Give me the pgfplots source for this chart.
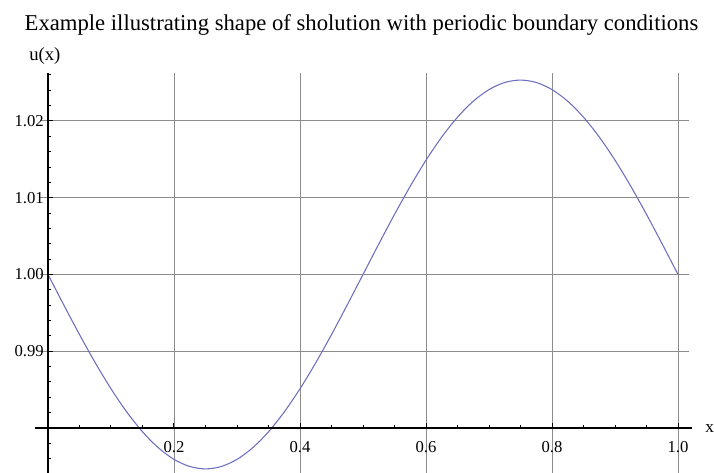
\documentclass[border=0pt]{standalone}
\usepackage{pgfplots}
\pgfplotsset{compat=1.18}
\usepackage{fontspec}
\setmainfont{Liberation Serif}
\definecolor{gridgray}{RGB}{140,140,140}
\definecolor{curveblue}{RGB}{110,110,190}
\pgfplotstableread{
x u
0.000 1.000000
0.025 0.996038
0.050 0.992172
0.075 0.988500
0.100 0.985111
0.125 0.982089
0.150 0.979508
0.175 0.977431
0.200 0.975910
0.225 0.974982
0.250 0.974670
0.275 0.974982
0.300 0.975910
0.325 0.977431
0.350 0.979508
0.375 0.982089
0.400 0.985111
0.425 0.988500
0.450 0.992172
0.475 0.996038
0.500 1.000000
0.525 1.003962
0.550 1.007828
0.575 1.011500
0.600 1.014889
0.625 1.017911
0.650 1.020492
0.675 1.022569
0.700 1.024090
0.725 1.025018
0.750 1.025330
0.775 1.025018
0.800 1.024090
0.825 1.022569
0.850 1.020492
0.875 1.017911
0.900 1.014889
0.925 1.011500
0.950 1.007828
0.975 1.003962
1.000 1.000000
}\solution
\begin{document}
\begin{tikzpicture}
\path[use as bounding box] (0,0) rectangle (535.5pt,354.75pt);
% grid + curve
\begin{axis}[
  at={(30pt,0pt)}, anchor=south west,
  scale only axis, width=486.75pt, height=300pt,
  xmin=-0.0127, xmax=1.01746, ymin=0.974137, ymax=1.026254,
  axis line style={draw=none},
  xtick={0.2,0.4,0.6,0.8,1.0}, ytick={0.99,1.0,1.01,1.02},
  xticklabels={}, yticklabels={},
  major tick length=0pt,
  grid=major, grid style={gridgray, line width=0.75pt},
]
\addplot[curveblue, line width=0.8pt, smooth] table[x=x,y=u]{\solution};
\end{axis}
% x axis at u=0.98
\begin{axis}[
  at={(26.25pt,33.75pt)}, anchor=south west,
  scale only axis, width=492.75pt, height=266.25pt,
  xmin=-0.02063, xmax=1.02222, ymin=0.98, ymax=1.026254,
  axis x line=bottom, axis y line=none,
  x axis line style={-, black, line width=0.9pt},
  ytick=\empty,
  xtick={0,0.2,0.4,0.6,0.8,1.0},
  xticklabels={,0.2,0.4,0.6,0.8,1.0},
  minor xtick={0.05,0.1,0.15,0.25,0.3,0.35,0.45,0.5,0.55,0.65,0.7,0.75,0.85,0.9,0.95},
  tick align=inside,
  major tick length=3.75pt, minor tick length=2.5pt,
  tick style={black, line width=0.75pt},
  xticklabel style={font=\fontsize{12.5}{14}\selectfont, inner sep=0pt, yshift=-9.5pt},
]
\end{axis}
% y axis at x=0
\begin{axis}[
  at={(36pt,0pt)}, anchor=south west,
  scale only axis, width=483pt, height=300pt,
  xmin=0, xmax=1.02222, ymin=0.974137, ymax=1.026254,
  axis y line=left, axis x line=none,
  y axis line style={-, black, line width=0.9pt},
  xtick=\empty,
  ytick={0.98,0.99,1.0,1.01,1.02},
  yticklabels={,0.99,1.00,1.01,1.02},
  minor ytick={0.976,0.978,0.982,0.984,0.986,0.988,0.992,0.994,0.996,0.998,1.002,1.004,1.006,1.008,1.012,1.014,1.016,1.018,1.022,1.024,1.026},
  tick align=inside,
  major tick length=3.75pt, minor tick length=2.5pt,
  tick style={black, line width=0.75pt},
  yticklabel style={font=\fontsize{12.5}{14}\selectfont, inner sep=0pt, xshift=-3pt},
]
\end{axis}
\node[anchor=base, font=\fontsize{17}{20}\selectfont] at (271.1pt,331.5pt) {Example illustrating shape of sholution with periodic boundary conditions};
\node[anchor=base west, inner sep=0pt, font=\fontsize{14}{16}\selectfont] at (21.75pt,309pt) {u(x)};
\node[anchor=base west, inner sep=0pt, font=\fontsize{13}{15}\selectfont] at (528.75pt,30pt) {x};
\end{tikzpicture}
\end{document}
